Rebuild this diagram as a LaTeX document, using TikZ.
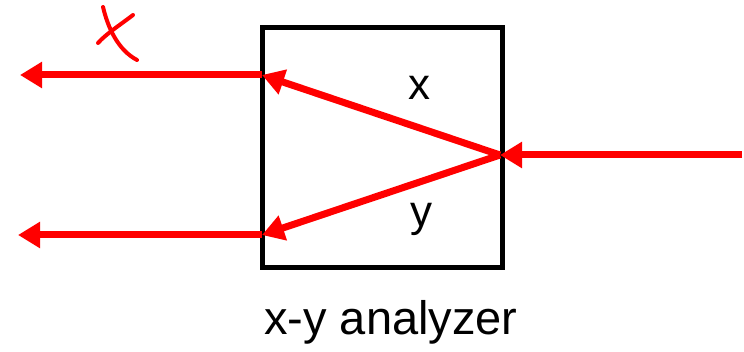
\documentclass[tikz,border=0pt]{standalone}
\usepackage{fontspec}
\setmainfont{Liberation Sans}
\usetikzlibrary{arrows.meta}
\definecolor{cbeam}{HTML}{FF0000}
\tikzset{
  every picture/.style={x=1pt, y=-1pt},
  box/.style={draw=black, line width=5pt, minimum size=240pt, inner sep=0pt},
  beam/.style={draw=cbeam, line width=7pt, -{Triangle[length=22pt, width=25pt]}},
  pen/.style={draw=cbeam, line width=4pt, line cap=round},
  note/.style={font=\fontsize{44}{52}\selectfont, anchor=base, inner sep=0pt},
}
\begin{document}
\begin{tikzpicture}
  \useasboundingbox (0,0) rectangle (744,352);
  \node[box] (analyzer) at (382,148) {};
  % beam points
  \coordinate (src) at (742,155);
  \coordinate (split) at (500,155);
  \coordinate (xport) at (262,75);
  \coordinate (yport) at (262,235);
  \coordinate (xout) at (20,75);
  \coordinate (yout) at (18,235);
  \draw[beam] (src) -- (split);
  \draw[beam] (split) -- (xport);
  \draw[beam] (split) -- (yport);
  \draw[beam] (xport) -- (xout);
  \draw[beam] (yport) -- (yout);
  \node[note] (xlab) at (419,100) {x};
  \node[note] (ylab) at (421,227) {y};
  \node[note, font=\fontsize{47}{56}\selectfont] (caption) at (391,335) {x-y analyzer};
  % handwritten mark
  \draw[pen] (103,7) .. controls (108,28) and (118,50) .. (137,60);
  \draw[pen] (133,15) .. controls (120,25) and (106,34) .. (98,43);
\end{tikzpicture}
\end{document}
